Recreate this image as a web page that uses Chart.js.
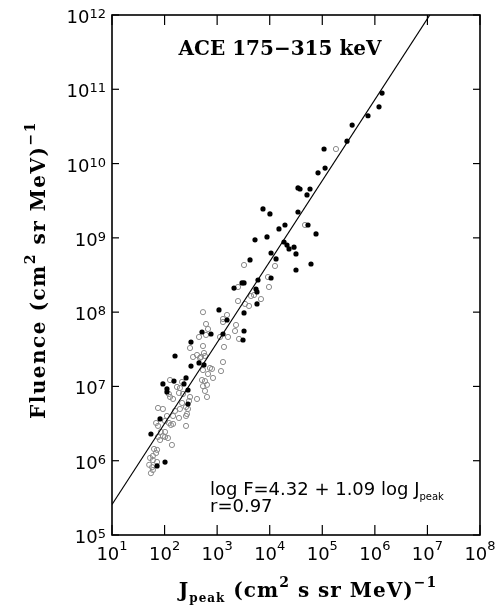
<!DOCTYPE html>
<html><head><meta charset="utf-8">
<script src="https://cdn.jsdelivr.net/npm/chart.js@4/dist/chart.umd.min.js"></script>
<style>html,body{margin:0;padding:0;background:#fff;}#wrap{width:504px;height:608px;position:relative;}</style>
</head><body><div id="wrap"><canvas id="c"></canvas></div>
<script>
// ---- data ----
const filledJpeak = [1.37e6,1.2e6,7.4e5,3.7e5,2.95e5,1.08e5,1.13e5,8.3e4,3.45e4,3.77e4,5.84e4,5.12e4,7450,1.01e4,3.45e4,1.5e4,1.95e4,5.35e4,7.6e4,5250,8880,1.87e4,2.13e4,2.33e4,2.9e4,1.06e4,1.32e4,3.16e4,4220,6.1e4,3.16e4,1.06e4,5985,2974,3246,2094,5485,5730,5730,1084,3246,1540,515,764,1292,3246,3107,318,158,318,452,562,151,93,256,234,111,111,279,279,82,55,72,102];
const filledFluence = [8.9e10,5.8e10,4.4e10,3.3e10,2.0e10,1.57e10,8.7e9,7.5e9,4.7e9,4.55e9,4.55e9,3.78e9,2.45e9,2.1e9,2.23e9,1.32e9,1.49e9,1.49e9,1.13e9,9.4e8,1.03e9,8.8e8,8.0e8,7.1e8,7.5e8,6.25e8,5.2e8,6.07e8,5.04e8,4.45e8,3.69e8,2.88e8,2.71e8,2.47e8,2.47e8,2.11e8,2.05e8,1.87e8,1.29e8,1.07e8,9.75e7,7.84e7,5.4e7,5.08e7,5.08e7,5.57e7,4.22e7,3.96e7,2.57e7,1.88e7,2.07e7,1.95e7,1.18e7,1.08e7,1.3e7,1.08e7,9.25e6,8.42e6,8.95e6,5.8e6,3.65e6,2.29e6,8.5e5,9.6e5];
const openJpeak = [1.82e5,4.69e4,3246,1.26e4,9270,2496,9685,4410,5025,6825,2496,3391,4040,538,1540,614,670,1292,1292,2286,614,452,1133,2188,1610,2608,305,538,1350,414,562,348,493,587,472,731,798,1292,1184,538,670,834,127,215,515,587,538,641,172,196,305,224,188,587,641,414,121,127,145,279,292,215,256,196,75,93,158,267,188,256,111,102,145,69,75,121,132,145,256,85,102,93,75,82,102,116,138,63,72,69,60,53,60,72,51,58,60,55];
const openFluence = [1.57e10,1.49e9,4.31e8,4.18e8,2.97e8,2.18e8,2.18e8,1.65e8,1.7e8,1.5e8,1.41e8,1.29e8,1.21e8,1.0e8,9.16e7,6.93e7,5.93e7,8.09e7,7.36e7,6.72e7,4.93e7,4.63e7,4.63e7,5.57e7,4.63e7,4.36e7,3.29e7,3.5e7,3.4e7,2.65e7,2.82e7,2.49e7,2.49e7,2.57e7,2.42e7,1.77e7,1.72e7,2.13e7,1.61e7,1.66e7,1.47e7,1.3e7,1.22e7,1.15e7,1.22e7,1.18e7,1.01e7,1.05e7,9.84e6,9.53e6,7.21e6,7.91e6,8.17e6,8.69e6,7.21e6,6.78e6,7.91e6,7.21e6,6.78e6,4.97e6,6.37e6,5.99e6,5.28e6,4.97e6,5.13e6,4.97e6,4.68e6,4.26e6,3.76e6,4.0e6,4.0e6,3.43e6,4.0e6,3.22e6,2.94e6,3.22e6,3.03e6,3.13e6,2.94e6,2.44e6,2.44e6,2.15e6,2.09e6,1.9e6,2.09e6,2.02e6,1.63e6,1.44e6,1.4e6,1.27e6,1.16e6,1.09e6,1.02e6,9.6e5,8.8e5,8.2e5,7.5e5,6.8e5];
const fitIntercept = 4.32, fitSlope = 1.09, fitR = 0.97;
const xDecades = [1,2,3,4,5,6,7,8];
const yDecades = [5,6,7,8,9,10,11,12];
const titleText = 'ACE 175\u2212315 keV';

// ---- build ----
const toPts = (xs, ys) => xs.map((v, i) => ({x: v, y: ys[i]}));
const xMin = 10 ** xDecades[0], xMax = 10 ** xDecades[xDecades.length - 1];
const yMin = 10 ** yDecades[0], yMax = 10 ** yDecades[yDecades.length - 1];
const fitAt = j => 10 ** (fitIntercept + fitSlope * Math.log10(j));
const xTop = 10 ** ((Math.log10(yMax) - fitIntercept) / fitSlope);
const fitLine = [{x: xMin, y: fitAt(xMin)}, {x: xTop, y: yMax}];

const SANS = '"DejaVu Sans", sans-serif';
const SERIF = '"DejaVu Serif", serif';

function runsWidth(ctx, runs) {
  let w = 0;
  runs.forEach(r => { ctx.font = r.font; w += ctx.measureText(r.t).width; });
  return w;
}
function drawRuns(ctx, runs, x, y) {
  let cx = x;
  runs.forEach(r => { ctx.font = r.font; ctx.fillText(r.t, cx, y + (r.dy || 0)); cx += ctx.measureText(r.t).width; });
}

const decor = {
  id: 'decor',
  afterDraw(chart) {
    const {ctx, chartArea: a, scales: {x, y}} = chart;
    ctx.save();
    ctx.strokeStyle = '#000';
    ctx.fillStyle = '#000';
    ctx.lineWidth = 1.6;
    ctx.strokeRect(a.left, a.top, a.right - a.left, a.bottom - a.top);
    ctx.lineWidth = 1.2;
    const seg = (x1, y1, x2, y2) => { ctx.beginPath(); ctx.moveTo(x1, y1); ctx.lineTo(x2, y2); ctx.stroke(); };
    ctx.textBaseline = 'alphabetic';
    ctx.textAlign = 'left';
    const main = '18px ' + SANS, sup = '13px ' + SANS;
    xDecades.forEach(k => {
      const px = x.getPixelForValue(10 ** k);
      seg(px, a.bottom, px, a.bottom - 10);
      seg(px, a.top, px, a.top + 10);
      const runs = [{t: '10', font: main}, {t: String(k), font: sup, dy: -10}];
      const w = runsWidth(ctx, runs);
      drawRuns(ctx, runs, px - w / 2, a.bottom + 25);
    });
    yDecades.forEach(k => {
      const py = y.getPixelForValue(10 ** k);
      seg(a.left, py, a.left + 7, py);
      seg(a.right, py, a.right - 7, py);
      const runs = [{t: '10', font: main}, {t: String(k), font: sup, dy: -5}];
      const w = runsWidth(ctx, runs);
      drawRuns(ctx, runs, a.left - 6 - w, py + 8);
    });
    // title inside
    ctx.font = 'bold 20px ' + SERIF;
    const tw = ctx.measureText(titleText).width;
    ctx.fillText(titleText, 280 - tw / 2, a.top + 40);
    // equation
    const eqMain = '18px ' + SANS, eqSub = '10px ' + SANS;
    drawRuns(ctx, [
      {t: 'log F=' + fitIntercept.toFixed(2) + ' + ' + fitSlope.toFixed(2) + ' log J', font: eqMain},
      {t: 'peak', font: eqSub, dy: 5}
    ], 210, a.bottom - 40);
    drawRuns(ctx, [{t: 'r=' + fitR.toFixed(2), font: eqMain}], 210, a.bottom - 23);
    // x title
    const tMain = 'bold 20px ' + SERIF, tSub = 'bold 12px ' + SERIF, tSup = 'bold 14px ' + SERIF;
    ctx.letterSpacing = '1px';
    const xr = [
      {t: 'J', font: tMain}, {t: 'peak', font: tSub, dy: 5}, {t: ' (cm', font: tMain},
      {t: '2', font: tSup, dy: -10}, {t: ' s sr MeV)', font: tMain}, {t: '\u22121', font: tSup, dy: -10}
    ];
    const xw = runsWidth(ctx, xr);
    drawRuns(ctx, xr, 308 - xw / 2, 597);
    // y title
    ctx.letterSpacing = '1.5px';
    const yr = [
      {t: 'Fluence (cm', font: tMain}, {t: '2', font: tSup, dy: -10},
      {t: ' sr MeV)', font: tMain}, {t: '\u22121', font: tSup, dy: -10}
    ];
    const yw = runsWidth(ctx, yr);
    ctx.translate(45, 270);
    ctx.rotate(-Math.PI / 2);
    drawRuns(ctx, yr, -yw / 2, 0);
    ctx.restore();
  }
};

new Chart(document.getElementById('c'), {
  type: 'scatter',
  data: {
    datasets: [
      {label: 'filled', data: toPts(filledJpeak, filledFluence), order: 0,
       pointRadius: 2.6, pointBackgroundColor: '#000', pointBorderColor: '#000', pointBorderWidth: 0},
      {label: 'fit', type: 'line', data: fitLine, order: 1, borderColor: '#000', borderWidth: 1.2,
       pointRadius: 0, fill: false, tension: 0},
      {label: 'open', data: toPts(openJpeak, openFluence), order: 2,
       pointRadius: 2.6, pointBackgroundColor: 'rgba(0,0,0,0)', pointBorderColor: '#8a8a8a', pointBorderWidth: 1}
    ]
  },
  options: {
    responsive: true, maintainAspectRatio: false, animation: false,
    layout: {padding: {left: 112, top: 15, right: 24, bottom: 73}},
    plugins: {legend: {display: false}, tooltip: {enabled: false}},
    scales: {
      x: {type: 'logarithmic', min: xMin, max: xMax,
          ticks: {display: false}, grid: {display: false}, border: {display: false},
          afterFit: s => { s.height = 0; }},
      y: {type: 'logarithmic', min: yMin, max: yMax,
          ticks: {display: false}, grid: {display: false}, border: {display: false},
          afterFit: s => { s.width = 0; }}
    }
  },
  plugins: [decor]
});
</script></body></html>
